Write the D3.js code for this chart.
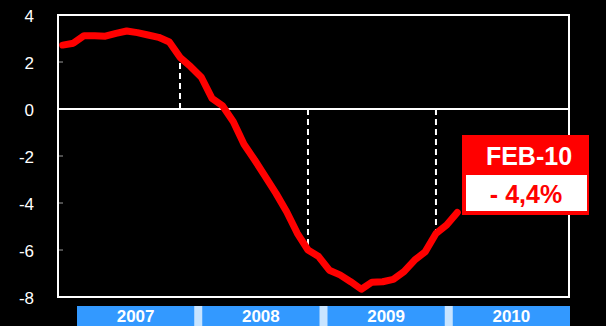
<!DOCTYPE html>
<html>
<head>
<meta charset="utf-8">
<script src="https://cdn.jsdelivr.net/npm/d3@7"></script>
<style>
  html, body { margin: 0; padding: 0; background: #000; }
  svg { display: block; }
</style>
</head>
<body>
<svg id="chart" width="606" height="326"></svg>
<script>
// Monthly series, Jan 2007 – Feb 2010 (% y/y)
const months = [
  "2007-01","2007-02","2007-03","2007-04","2007-05","2007-06","2007-07","2007-08","2007-09","2007-10","2007-11","2007-12",
  "2008-01","2008-02","2008-03","2008-04","2008-05","2008-06","2008-07","2008-08","2008-09","2008-10","2008-11","2008-12",
  "2009-01","2009-02","2009-03","2009-04","2009-05","2009-06","2009-07","2009-08","2009-09","2009-10","2009-11","2009-12",
  "2010-01","2010-02"
];
const values = [
  2.72, 2.80, 3.12, 3.12, 3.10, 3.22, 3.32, 3.25, 3.15, 3.05, 2.85, 2.20,
  1.80, 1.35, 0.45, 0.13, -0.54, -1.50, -2.17, -2.88, -3.59, -4.37, -5.29, -6.00,
  -6.28, -6.86, -7.06, -7.35, -7.67, -7.37, -7.35, -7.25, -6.92, -6.43, -6.07, -5.30,
  -4.94, -4.40
];
const yTicks = [4, 2, 0, -2, -4, -6, -8];
const years = ["2007", "2008", "2009", "2010"];
const yearEnds = ["2007-12", "2008-12", "2009-12"];
const lastLabel = "FEB-10";
const lastValue = values[values.length - 1];

const svg = d3.select("#chart");
const plot = { left: 58, top: 15, right: 569, bottom: 297 };
const font = "Liberation Sans, Arial, sans-serif";

const x = d3.scalePoint().domain(months).range([62.7, 457.3]);
const y = d3.scaleLinear().domain([-8, 4]).range([plot.bottom, plot.top]);

// y axis labels (plain hyphen minus) and small ticks
const yAxis = d3.axisLeft(y).tickValues(yTicks).tickSize(0).tickPadding(24)
  .tickFormat(d => String(d));
const gy = svg.append("g").attr("transform", `translate(${plot.left},0)`).call(yAxis);
gy.select(".domain").remove();
gy.selectAll("text")
  .attr("fill", "#fff")
  .attr("font-family", font)
  .attr("font-size", 17)
  .attr("dy", "0.36em");
svg.append("g").selectAll("line").data(yTicks).join("line")
  .attr("x1", plot.left).attr("x2", plot.left + 5)
  .attr("y1", d => y(d)).attr("y2", d => y(d))
  .attr("stroke", "#999").attr("stroke-width", 1);

// dashed drop lines at each year end
svg.append("g").selectAll("line").data(yearEnds).join("line")
  .attr("x1", d => x(d)).attr("x2", d => x(d))
  .attr("y1", y(0))
  .attr("y2", d => y(values[months.indexOf(d)]))
  .attr("stroke", "#fff").attr("stroke-width", 2)
  .attr("stroke-dasharray", "6,4");

// zero line
svg.append("line")
  .attr("x1", plot.left).attr("x2", plot.right)
  .attr("y1", y(0)).attr("y2", y(0))
  .attr("stroke", "#fff").attr("stroke-width", 2);

// frame
svg.append("rect")
  .attr("x", plot.left).attr("y", plot.top)
  .attr("width", plot.right - plot.left).attr("height", plot.bottom - plot.top)
  .attr("fill", "none").attr("stroke", "#fff").attr("stroke-width", 2);

// series line
const line = d3.line().x((d, i) => x(months[i])).y(d => y(d));
svg.append("path")
  .datum(values)
  .attr("d", line)
  .attr("fill", "none")
  .attr("stroke", "#ff0000")
  .attr("stroke-width", 7)
  .attr("stroke-linejoin", "round")
  .attr("stroke-linecap", "round");

// year band along the bottom
const band = d3.scaleBand().domain(years).range([77, 570]).paddingInner(0.064);
svg.append("rect")
  .attr("x", 77).attr("y", 306).attr("width", 493).attr("height", 20)
  .attr("fill", "#c8e4ff");
const gb = svg.append("g");
gb.selectAll("rect").data(years).join("rect")
  .attr("x", d => band(d)).attr("y", 306)
  .attr("width", band.bandwidth()).attr("height", 20)
  .attr("fill", "#3399ff");
gb.selectAll("text").data(years).join("text")
  .attr("x", d => band(d) + band.bandwidth() / 2)
  .attr("y", 322)
  .attr("text-anchor", "middle")
  .attr("fill", "#fff")
  .attr("font-family", font)
  .attr("font-weight", "bold")
  .attr("font-size", 17)
  .text(d => d);

// callout for the latest value
const fmt = v => (v < 0 ? "- " : "") + d3.format(".1f")(Math.abs(v)).replace(".", ",") + "%";
const cx = 462, cy = 135;
svg.append("rect").attr("x", cx).attr("y", cy).attr("width", 127).attr("height", 80).attr("fill", "#ff0000");
svg.append("rect").attr("x", cx + 4).attr("y", cy + 40).attr("width", 121).attr("height", 36).attr("fill", "#fff");
svg.append("text")
  .attr("x", cx + 67).attr("y", cy + 30)
  .attr("text-anchor", "middle").attr("fill", "#fff")
  .attr("font-family", font)
  .attr("font-weight", "bold").attr("font-size", 25)
  .text(lastLabel);
svg.append("text")
  .attr("x", cx + 64).attr("y", cy + 68)
  .attr("text-anchor", "middle").attr("fill", "#ff0000")
  .attr("font-family", font)
  .attr("font-weight", "bold").attr("font-size", 25)
  .text(fmt(lastValue));
</script>
</body>
</html>
